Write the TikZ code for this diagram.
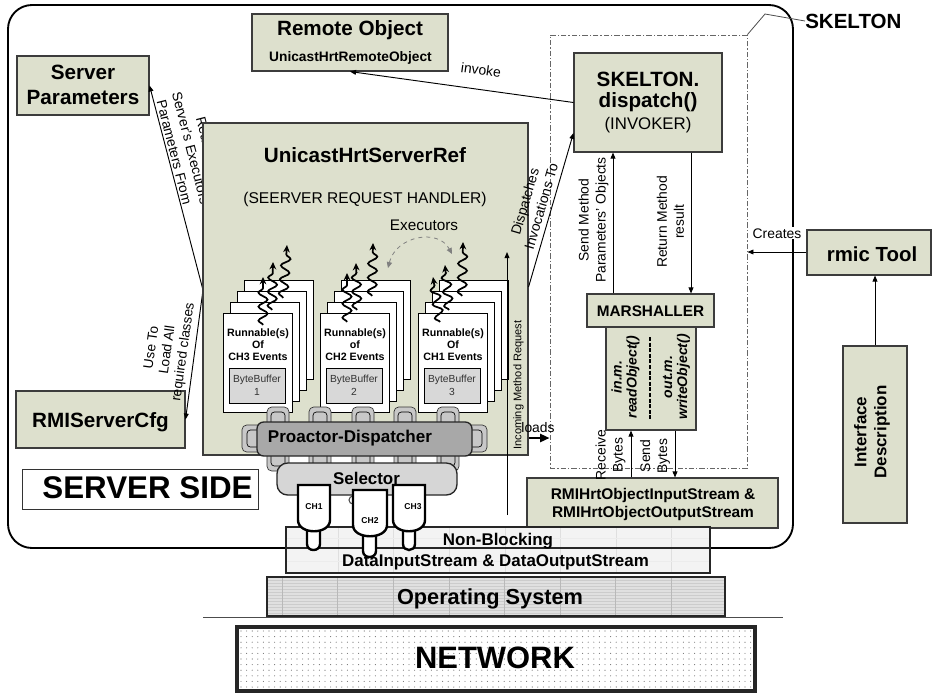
\documentclass[tikz,border=0pt]{standalone}
\usepackage{fontspec}
\setmainfont{Liberation Sans}
\usetikzlibrary{arrows.meta,decorations.pathmorphing,fit}

\definecolor{boxfill}{RGB}{221,224,205}
\definecolor{boxline}{RGB}{60,60,60}
\definecolor{tablefill}{RGB}{168,168,168}
\definecolor{chairfill}{RGB}{200,200,200}
\definecolor{selfill}{RGB}{214,214,214}
\definecolor{buffill}{RGB}{216,216,216}
\definecolor{layerfill}{RGB}{243,243,243}
\definecolor{osfill}{RGB}{224,224,224}

\tikzset{
  box/.style={draw=boxline, fill=boxfill, line width=0.8pt, inner sep=0pt},
  pagebox/.style={draw=black, fill=white, line width=0.6pt, inner sep=0pt},
  layer/.style={draw=black!85, line width=2.2pt, inner sep=0pt},
  arr/.style={line width=0.7pt, -{Triangle[length=4.5pt,width=3.6pt]}},
  lbl/.style={inner sep=0pt, align=center, font=\fontsize{10.4}{12.75}\selectfont},
  thread/.style={line width=1.3pt, decorate,
    decoration={snake, amplitude=3.4pt, segment length=10.5pt, post length=5pt},
    -{Stealth[length=5.5pt,width=5pt]}},
  chair/.style={draw=black!80, fill=chairfill, line width=0.5pt, rounded corners=3.5pt},
  chan/.style={draw=black, fill=white, line width=1.8pt},
  titlef/.style={font=\bfseries\fontsize{15.5}{19.5}\selectfont},
}

% chairs around the dispatcher table
\newcommand{\chairup}[1]{%
  \draw[chair] (#1-11,424) -- (#1-11,407) -- (#1+11,407) -- (#1+11,424);
  \draw[line width=0.5pt, rounded corners=2.5pt] (#1-7,424) -- (#1-7,412) -- (#1+7,412) -- (#1+7,424);}
\newcommand{\chairdown}[1]{%
  \draw[chair] (#1-11,454) -- (#1-11,471) -- (#1+11,471) -- (#1+11,454);
  \draw[line width=0.5pt, rounded corners=2.5pt] (#1-7,454) -- (#1-7,466) -- (#1+7,466) -- (#1+7,454);}

\begin{document}
\begin{tikzpicture}[x=0.75pt,y=-0.75pt]
\useasboundingbox (0,0) rectangle (934,693);

% server side frame
\draw[line width=1.4pt, rounded corners=18pt] (8,5) rectangle (793,548);

% remote object
\node[box, fit={(252,14)(448,71)}] (ro) {};
\node[titlef, anchor=base] (rot) at (350,35.5) {Remote Object};
\node[font=\bfseries\fontsize{10.3}{12}\selectfont, anchor=base] (ros) at (350.5,61.5) {UnicastHrtRemoteObject};

% configuration boxes on the left
\node[box, fit={(17,56)(149,115)}] (sp) {};
\node[titlef, anchor=base] (sp1) at (83,79) {Server};
\node[titlef, anchor=base] (sp2) at (83,104.5) {Parameters};
\node[box, fit={(16,391)(185,448)}] (cfg) {};
\node[titlef, anchor=base] (cfgt) at (100.5,427) {RMIServerCfg};

\node[draw=black!80, fill=white, line width=0.6pt, inner sep=0pt, fit={(22,469)(258,509)}] (ss) {};
\node[font=\bfseries\fontsize{23.5}{28}\selectfont, anchor=base] (sst) at (147.5,498) {SERVER SIDE};

% request handler reads its parameters
\coordinate (usrw) at (203,290);
\node[lbl, rotate=-75.6, font=\fontsize{10.3}{12.75}\selectfont] (rdl) at (191,148) {Read the\\Server's Executors\\Parameters From};
\node[lbl, rotate=82, font=\fontsize{10.2}{12}\selectfont] (usel) at (168,350) {Use To\\Load All\\required classes};
\draw[arr] (usrw) -- (sp.east);
\draw[arr] (usrw) -- (cfg.east);

% request handler
\node[box, fit={(203,123)(528,455)}] (usr) {};
\node[titlef, anchor=base] (usrt) at (365,162) {UnicastHrtServerRef};
\node[font=\fontsize{11.7}{14}\selectfont, anchor=base] (usrs) at (365,203) {(SEERVER REQUEST HANDLER)};
\node[font=\fontsize{11.5}{14}\selectfont, anchor=base] (exl) at (424,230) {Executors};

% runnable stacks with their executor threads
\foreach \x/\n/\o/\ch/\b in {223/3/Of/CH3/1, 320/2/of/CH2/2, 418/1/Of/CH1/3} {
  \foreach \k in {3,2,1}
    \draw[pagebox] (\x+7*\k,313-11*\k) rectangle (\x+69+7*\k,412-11*\k);
  \node[pagebox, fit={(\x,313)(\x+69,412)}] (pg\n) {};
  \node[font=\bfseries\fontsize{8}{9}\selectfont, align=center, inner sep=0pt] at (\x+35,344.5) {Runnable(s)\\\o\\\ch{} Events};
  \node[draw=black, fill=buffill, line width=0.6pt, inner sep=0pt, fit={(\x+6,368)(\x+62,403)}] (bb\n) {};
  \node[font=\fontsize{7.7}{9.8}\selectfont, text=black!80, align=center, inner sep=0pt] at (bb\n) {ByteBuffer\\\b};
}
\draw[thread] (263,325) -- (263,277);
\draw[thread] (272,310) -- (273,262);
\draw[thread] (283,298) -- (287,245);
\draw[thread] (347,322) -- (347,273);
\draw[thread] (357,310) -- (356,263);
\draw[thread] (372,296) -- (373,243);
\draw[thread] (440,322) -- (433,277);
\draw[thread] (449,310) -- (445,265);
\draw[thread] (462,296) -- (463,242);

\coordinate (exa) at (388,268);
\coordinate (exb) at (452,254);
\draw[gray, dashed, line width=0.6pt, {Triangle[length=4.5pt,width=4pt]}-{Triangle[length=4.5pt,width=4pt]}]
  (exa) .. controls (396,236) and (438,228) .. (exb);

% dispatcher table and selector
\foreach \c in {278,320,363,405,448} {\chairup{\c} \chairdown{\c}}
\draw[chair] (259,425) -- (242,425) -- (242,452) -- (259,452);
\draw[line width=0.5pt, rounded corners=2.5pt] (259,430) -- (247,430) -- (247,447) -- (259,447);
\draw[chair] (470,425) -- (487,425) -- (487,452) -- (470,452);
\draw[line width=0.5pt, rounded corners=2.5pt] (470,430) -- (482,430) -- (482,447) -- (470,447);
\node[draw=black!85, fill=tablefill, line width=1pt, rounded corners=5pt, inner sep=0pt, fit={(257,422)(472,456)}] (pd) {};
\node[font=\bfseries\fontsize{12.8}{15}\selectfont, anchor=base] (pdt) at (350,442) {Proactor-Dispatcher};
\node[draw=black!85, fill=selfill, line width=1pt, rounded corners=8pt, inner sep=0pt, fit={(277,463)(457,495)}] (sel) {};
\node[font=\bfseries\fontsize{12.7}{15}\selectfont, anchor=base] (selt) at (366.5,484) {Selector};

% skeleton
\node[draw=gray!80!black, line width=0.7pt, dash pattern=on 4pt off 1.5pt on 1pt off 1.5pt, inner sep=0pt, fit={(550,35)(747,468)}] (skbox) {};
\node[font=\bfseries\fontsize{15.4}{18}\selectfont, anchor=west, inner sep=0pt] (sklbl) at (805,21) {SKELTON};
\draw[line width=0.6pt, black!70] (skbox.north east) -- (765,14) -- (sklbl.west);

\node[box, fit={(574,53)(722,152)}] (skd) {};
\node[titlef, anchor=base] (skd1) at (648,86) {SKELTON.};
\node[titlef, anchor=base] (skd2) at (648,107) {dispatch()};
\node[font=\fontsize{12.6}{15}\selectfont, anchor=base] (skd3) at (648,129) {(INVOKER)};

\draw[arr] (skd.west) -- (ro.south);
\node[lbl, rotate=-8] (invl) at (481,70) {invoke};

\draw[arr] (usr.east |- 0,287) -- (skd.west |- 0,133);
\node[lbl, rotate=73.7] (dspl) at (533,204) {Dispatches\\Invocations To};

\coordinate (incb) at (507,515);
\coordinate (inct) at (507,252);
\draw[arr] (incb) -- (inct);
\node[lbl, rotate=90, font=\fontsize{8.3}{10}\selectfont] (incl) at (518.5,385) {Incoming Method Request};
\draw[line width=1.6pt, -{Triangle[length=7pt,width=6pt]}] (usr.east |- 0,438) -- (skbox.west |- 0,438);
\node[lbl, anchor=base] (ldl) at (538,432) {loads};

\node[box, fit={(587,294)(714,327)}] (msh) {};
\node[font=\bfseries\fontsize{11.5}{14}\selectfont, anchor=base] (msht) at (650.5,316) {MARSHALLER};
\node[box, fit={(606,327)(696,430)}] (mio) {};
\node[font=\bfseries\itshape\fontsize{10.5}{11.3}\selectfont, rotate=90, align=center, inner sep=0pt] (mioa) at (625.5,377) {in.m.\\readObject()};
\node[font=\bfseries\itshape\fontsize{10.5}{11.3}\selectfont, rotate=90, align=center, inner sep=0pt] (miob) at (676.5,377) {out.m.\\writeObject()};
\draw[line width=1.2pt, dash pattern=on 3pt off 1.2pt] (650,337) -- (650,420);

\draw[arr] (msh.north -| 613,0) -- (skd.south -| 613,0);
\node[lbl, rotate=90] (spl) at (593.5,220) {Send Method\\Parameters' Objects};
\draw[arr] (skd.south -| 691,0) -- (msh.north -| 691,0);
\node[lbl, rotate=90] (rml) at (670.5,222) {Return Method\\result};

\node[box, fit={(527,478)(778,528)}] (rio) {};
\node[font=\bfseries\fontsize{11.6}{14}\selectfont, anchor=base] (rio1) at (653,499) {RMIHrtObjectInputStream \&};
\node[font=\bfseries\fontsize{11.6}{14}\selectfont, anchor=base] (rio2) at (653,517) {RMIHrtObjectOutputStream};

\draw[arr] (rio.north -| 631,0) -- (mio.south -| 631,0);
\node[lbl, rotate=90] (rcl) at (610.5,455) {Receive\\Bytes};
\draw[arr] (mio.south -| 675,0) -- (rio.north -| 675,0);
\node[lbl, rotate=90] (sbl) at (655,456) {Send\\Bytes};

% rmic tool
\node[box, fit={(807,230)(931,275)}] (rmic) {};
\node[font=\bfseries\fontsize{15.3}{18}\selectfont, anchor=base] (rmict) at (872,261) {rmic Tool};
\node[box, fit={(843,346)(907,523)}] (ifd) {};
\node[font=\bfseries\fontsize{12.7}{15}\selectfont, rotate=90, align=center, inner sep=0pt] (ifdt) at (872,432) {Interface\\Description};
\draw[arr] (ifd.north) -- (ifd.north |- rmic.south);
\draw[arr] (rmic.west |- 0,252) -- (skbox.east |- 0,252);
\node[lbl, fill=white, inner sep=1pt, anchor=base] (crl) at (777,238) {Creates};

% non-blocking streams layer
\fill[layerfill] (286,527) rectangle (710,573);
\foreach \gx in {338,393.6,...,700} \draw[gray!25, line width=0.4pt] (\gx,527) -- (\gx,573);
\foreach \gy in {538,561} \draw[gray!15, line width=0.4pt] (286,\gy) -- (710,\gy);
\node[layer, fit={(286,527)(710,548)}] (nbt) {};
\node[layer, fit={(286,548)(710,573)}] (nbb) {};
\node[font=\bfseries\fontsize{12.7}{15}\selectfont, anchor=base] (nbtt) at (498,545) {Non-Blocking};
\node[font=\bfseries\fontsize{12.7}{15}\selectfont, anchor=base] (nbbt) at (495.5,566) {DataInputStream \& DataOutputStream};

% operating system layer
\fill[osfill] (267,577) rectangle (725,616);
\foreach \gy in {580,583,...,614} \draw[gray!40, line width=0.3pt] (267,\gy) -- (725,\gy);
\foreach \gx in {282,337.6,...,720} \draw[gray!55, line width=0.4pt] (\gx,577) -- (\gx,616);
\node[layer, fit={(267,577)(725,616)}] (os) {};
\node[font=\bfseries\fontsize{16.3}{19}\selectfont, anchor=base] (ost) at (490,604) {Operating System};
\draw[line width=0.6pt, black!70] (203,617) -- (783,617);

% network layer
\fill[white] (237,627) rectangle (755,691);
\foreach \dx in {241,246.6,...,752} \foreach \dy in {631,636.6,...,689} \fill[black!55] (\dx,\dy) circle[radius=0.42pt];
\node[layer, line width=2.6pt, fit={(237,627)(755,691)}] (net) {};
\node[font=\bfseries\fontsize{23.2}{27}\selectfont, anchor=base] (nett) at (495,668) {NETWORK};

% channels
\draw[black!70, line width=0.8pt] (353,500) circle[radius=3pt];
\draw[chan] (307,528) -- (307,544) .. controls (307,552) and (320,552) .. (320,544) -- (320,528);
\draw[chan] (298,485) -- (298,520) .. controls (298,535) and (330,535) .. (330,520) -- (330,485) -- cycle;
\node[font=\bfseries\fontsize{6.4}{7}\selectfont, anchor=base] (ch1) at (314,509) {CH1};
\draw[chan] (363,533) -- (363,551) .. controls (363,559) and (376,559) .. (376,551) -- (376,533);
\draw[chan] (353,490) -- (353,525) .. controls (353,540) and (387,540) .. (387,525) -- (387,490) -- cycle;
\node[font=\bfseries\fontsize{6.4}{7}\selectfont, anchor=base] (ch2) at (370,523) {CH2};
\draw[chan] (403,528) -- (403,544) .. controls (403,552) and (415,552) .. (415,544) -- (415,528);
\draw[chan] (393,485) -- (393,520) .. controls (393,535) and (425,535) .. (425,520) -- (425,485) -- cycle;
\node[font=\bfseries\fontsize{6.4}{7}\selectfont, anchor=base] (ch3) at (413,509) {CH3};

\end{tikzpicture}
\end{document}
